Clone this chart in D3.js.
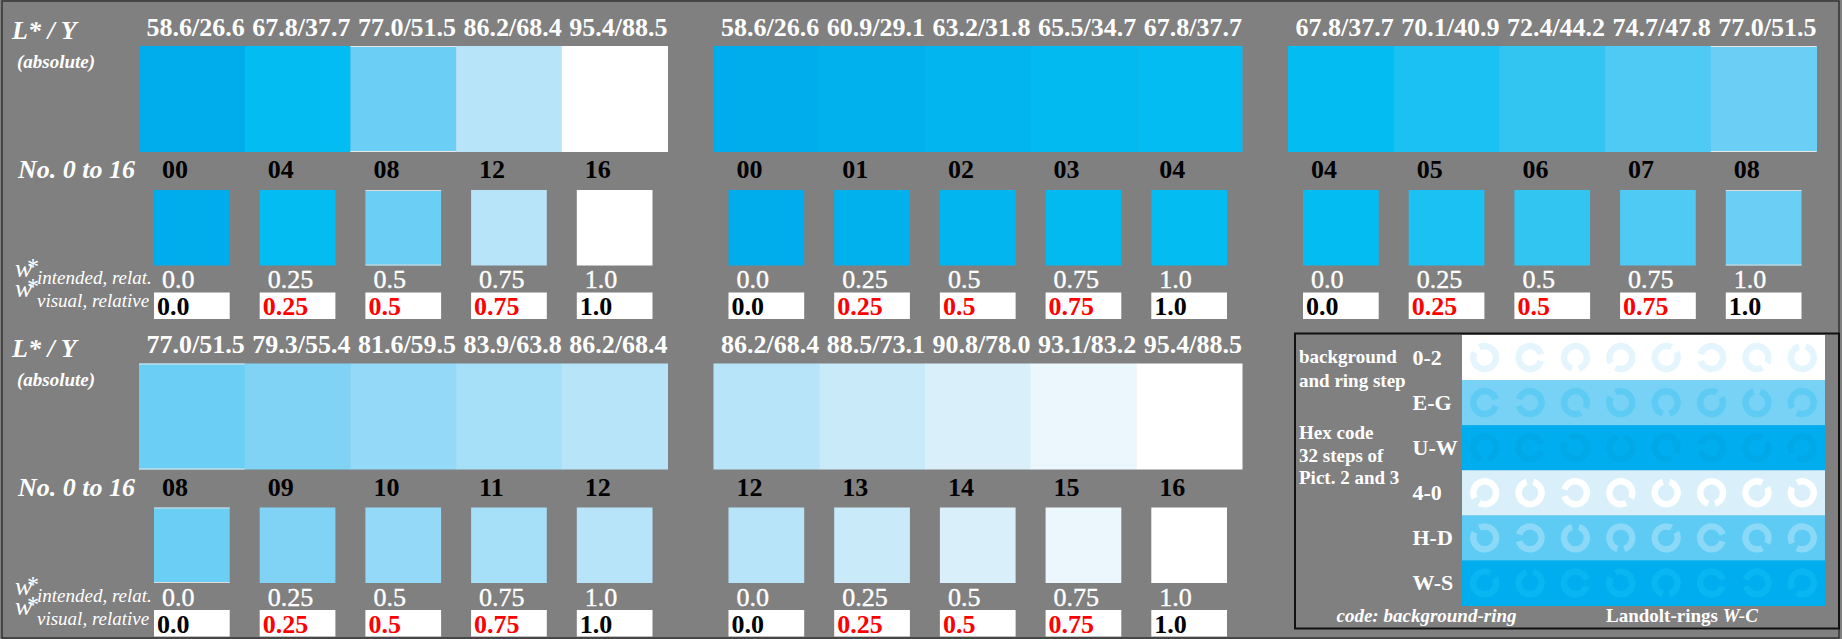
<!DOCTYPE html>
<html>
<head>
<meta charset="utf-8">
<script src="https://cdn.jsdelivr.net/npm/d3@7"></script>
<style>
  body { margin: 0; background: #808080; }
  svg { display: block; }
  text { font-family: "Liberation Serif", "Times New Roman", serif; }
</style>
</head>
<body>
<script>
// data
const stripLY = [
  ['58.6/26.6', '67.8/37.7', '77.0/51.5', '86.2/68.4', '95.4/88.5'],
  ['58.6/26.6', '60.9/29.1', '63.2/31.8', '65.5/34.7', '67.8/37.7'],
  ['67.8/37.7', '70.1/40.9', '72.4/44.2', '74.7/47.8', '77.0/51.5'],
  ['77.0/51.5', '79.3/55.4', '81.6/59.5', '83.9/63.8', '86.2/68.4'],
  ['86.2/68.4', '88.5/73.1', '90.8/78.0', '93.1/83.2', '95.4/88.5']
];
const stripNo = [
  ['00', '04', '08', '12', '16'],
  ['00', '01', '02', '03', '04'],
  ['04', '05', '06', '07', '08'],
  ['08', '09', '10', '11', '12'],
  ['12', '13', '14', '15', '16']
];
const stepColor = {
  '00': '#00adec', '01': '#01b1ed', '02': '#02b5ef', '03': '#02b9f0', '04': '#02bcf2',
  '05': '#1bc1f2', '06': '#33c5f2', '07': '#4fcaf4', '08': '#6bcef5',
  '09': '#81d3f6', '10': '#94d9f7', '11': '#a6dff8', '12': '#b7e4f8',
  '13': '#c8eaf9', '14': '#d9f0fb', '15': '#ebf7fd', '16': '#ffffff'
};
const intendedW = ['0.0', '0.25', '0.5', '0.75', '1.0'];
const visualW = ['0.0', '0.25', '0.5', '0.75', '1.0'];
const visualCol = ['#000', '#f00', '#f00', '#f00', '#000'];

const ringCodes = ['0-2', 'E-G', 'U-W', '4-0', 'H-D', 'W-S'];
const ringBg = ['#ffffff', '#78d2f5', '#00aeef', '#d9f0fb', '#5dcbf3', '#00aeef'];
const ringFg = ['#e4f5fd', '#5dcbf3', '#00a8e8', '#ffffff', '#8bd9f7', '#09b6f1'];
// gap direction of each Landolt ring, degrees (0 = right, 90 = up)
const ringGaps = [
  [135, 0, 270, 225, 45, 180, 315, 90],
  [0, 180, 315, 135, 270, 45, 90, 225],
  [270, 0, 135, 90, 315, 180, 45, 225],
  [225, 90, 180, 315, 90, 270, 45, 135],
  [135, 180, 90, 270, 45, 0, 315, 225],
  [45, 90, 0, 135, 270, 0, 180, 225]
];

const svg = d3.select('body').append('svg').attr('width', 1842).attr('height', 639);

// cadre
svg.append('rect')
  .attr('x', 2).attr('y', 1).attr('width', 1837).attr('height', 637)
  .style('fill', '#808080').style('stroke', '#333').style('stroke-width', 1.5);

// scales
const colX = d3.scaleLinear().domain([0, 1]).range([139, 713.5]);
const rowY = d3.scaleLinear().domain([0, 1]).range([0, 317.5]);
const patchX = d3.scaleBand().domain(d3.range(5)).range([0, 528.5]);

const panels = stripLY.map((ly, i) => ({ ly, no: stripNo[i], row: i < 3 ? 0 : 1, col: i < 3 ? i : i - 3 }));

// left hand labels for both halves
[0, 1].forEach(r => {
  const g = svg.append('g').attr('transform', `translate(0,${rowY(r)})`).style('fill', 'white');
  g.append('text').attr('x', 12).attr('y', 39).attr('font-size', 26)
    .attr('font-weight', 'bold').attr('font-style', 'italic').text('L* / Y');
  g.append('text').attr('x', 17).attr('y', 68).attr('font-size', 19)
    .attr('font-weight', 'bold').attr('font-style', 'italic').text('(absolute)');
  g.append('text').attr('x', 18).attr('y', 178).attr('font-size', 26)
    .attr('font-weight', 'bold').attr('font-style', 'italic').text('No. 0 to 16');
  // w* intended / visual
  [[277, 284, 'intended, relat.'], [297, 307, 'visual, relative']].forEach(([wy, sy, s]) => {
    g.append('text').attr('x', 15).attr('y', wy).attr('font-size', 26)
      .attr('font-style', 'italic').text('w');
    g.append('text').attr('x', 27).attr('y', wy - 3).attr('font-size', 24).text('*');
    g.append('text').attr('x', 37).attr('y', sy).attr('font-size', 19)
      .attr('font-style', 'italic').text(s);
  });
});

// panels
const pg = svg.selectAll('g.panel').data(panels).join('g')
  .attr('class', 'panel')
  .attr('transform', d => `translate(${colX(d.col)},${rowY(d.row)})`);

pg.each(function (d) {
  const g = d3.select(this);
  const bw = patchX.bandwidth();
  const cells = d3.range(5).map(k => ({ k, ly: d.ly[k], no: d.no[k], c: stepColor[d.no[k]] }));

  // grande bande
  g.selectAll('rect.strip').data(cells).join('rect')
    .attr('x', c => patchX(c.k)).attr('y', 46)
    .attr('width', bw + 0.5).attr('height', 106)
    .style('fill', c => c.c);
  g.selectAll('line.hl').data(cells.filter(c => c.no === '08')).join('g').each(function (c) {
    d3.select(this).selectAll('line').data([46.5, 151.5]).join('line')
      .attr('x1', patchX(c.k)).attr('x2', patchX(c.k) + bw)
      .attr('y1', y => y).attr('y2', y => y)
      .style('stroke', '#e8e8e8').style('stroke-width', 1);
  });
  g.selectAll('text.ly').data(cells).join('text')
    .attr('x', c => patchX(c.k) + 7.5).attr('y', 35.5)
    .attr('font-size', 26).attr('font-weight', 'bold').style('fill', 'white')
    .text(c => c.ly);

  // numeros
  g.selectAll('text.no').data(cells).join('text')
    .attr('x', c => patchX(c.k) + 23).attr('y', 178)
    .attr('font-size', 26).attr('font-weight', 'bold').style('fill', 'black')
    .text(c => c.no);

  // petits carres
  g.selectAll('rect.sq').data(cells).join('rect')
    .attr('x', c => patchX(c.k) + 15).attr('y', 190)
    .attr('width', bw - 30).attr('height', 75.5)
    .style('fill', c => c.c);
  cells.filter(c => c.no === '08').forEach(c => {
    [190.5, 265].forEach(y => g.append('line')
      .attr('x1', patchX(c.k) + 15).attr('x2', patchX(c.k) + bw - 15)
      .attr('y1', y).attr('y2', y)
      .style('stroke', '#dcdcdc').style('stroke-width', 1));
  });

  // w* intended
  g.selectAll('text.wi').data(cells).join('text')
    .attr('x', c => patchX(c.k) + 23).attr('y', 288)
    .attr('font-size', 26).style('fill', 'white')
    .style('stroke', 'white').style('stroke-width', 0.4)
    .text(c => intendedW[c.k]);

  // w* visual
  g.selectAll('rect.box').data(cells).join('rect')
    .attr('x', c => patchX(c.k) + 15).attr('y', 292.5)
    .attr('width', bw - 30).attr('height', 26.5)
    .style('fill', 'white');
  g.selectAll('text.wv').data(cells).join('text')
    .attr('x', c => patchX(c.k) + 18).attr('y', 315)
    .attr('font-size', 26).attr('font-weight', 'bold')
    .style('fill', c => visualCol[c.k])
    .text(c => visualW[c.k]);
});

// legende anneaux de Landolt
const lg = svg.append('g');
lg.append('rect')
  .attr('x', 1295).attr('y', 333.5).attr('width', 544).attr('height', 295)
  .style('fill', 'none').style('stroke', '#111').style('stroke-width', 2);

const bandY = d3.scaleBand().domain(d3.range(6)).range([335, 605.5]);
const ringX = d3.scaleBand().domain(d3.range(8)).range([1462, 1825]);

lg.selectAll('rect.band').data(ringCodes).join('rect')
  .attr('x', 1462).attr('y', (d, i) => bandY(i))
  .attr('width', 363).attr('height', bandY.bandwidth() + 0.5)
  .style('fill', (d, i) => ringBg[i]);

const half = 0.3;
const ringArc = d3.arc().innerRadius(8.2).outerRadius(14.7)
  .startAngle(half).endAngle(2 * Math.PI - half);

ringGaps.forEach((row, i) => {
  lg.selectAll(null).data(row).join('path')
    .attr('d', ringArc())
    .attr('transform', (a, j) =>
      `translate(${ringX(j) + ringX.bandwidth() / 2},${bandY(i) + bandY.bandwidth() / 2}) rotate(${90 - a})`)
    .style('fill', ringFg[i]);
});

lg.selectAll('text.code').data(ringCodes).join('text')
  .attr('x', 1412.5).attr('y', (d, i) => bandY(i) + bandY.bandwidth() / 2 + 7)
  .attr('font-size', 22).attr('font-weight', 'bold').style('fill', 'white')
  .text(d => d);

const notes = [['background', 363], ['and ring step', 386.5], ['Hex code', 439], ['32 steps of', 461.5], ['Pict. 2 and 3', 484]];
lg.selectAll('text.note').data(notes).join('text')
  .attr('x', 1299).attr('y', d => d[1])
  .attr('font-size', 19).attr('font-weight', 'bold').style('fill', 'white')
  .text(d => d[0]);

lg.append('text').attr('x', 1336.5).attr('y', 621.5)
  .attr('font-size', 19).attr('font-weight', 'bold').attr('font-style', 'italic')
  .style('fill', 'white').text('code: background-ring');
const lt = lg.append('text').attr('x', 1606).attr('y', 621.5)
  .attr('font-size', 19).attr('font-weight', 'bold').style('fill', 'white');
lt.append('tspan').text('Landolt-rings ');
lt.append('tspan').attr('font-style', 'italic').text('W-C');
</script>
</body>
</html>
